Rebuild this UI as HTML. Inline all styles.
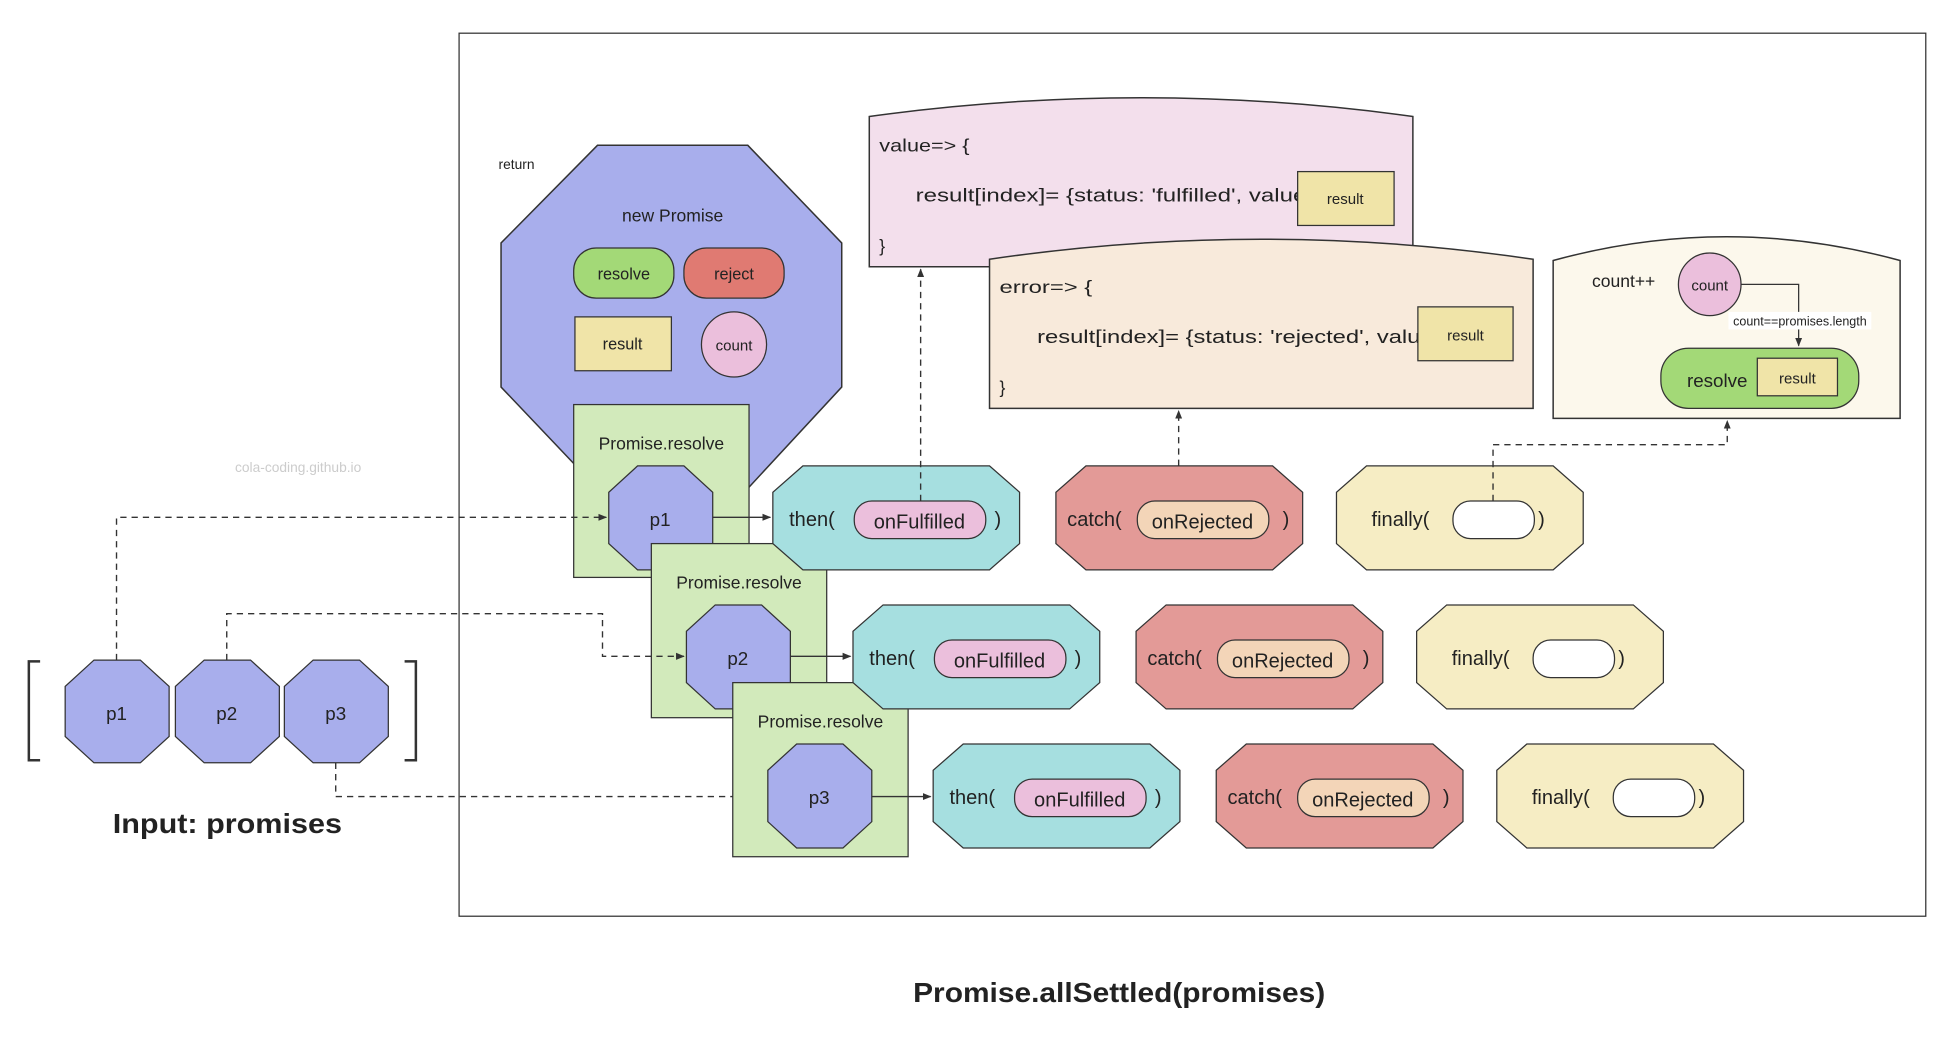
<!DOCTYPE html>
<html><head><meta charset="utf-8"><style>
html,body{margin:0;padding:0;background:#fff;}
svg{display:block;}
text{font-family:"Liberation Sans",sans-serif;fill:#222;}
</style></head><body>
<svg width="1954" height="1058" viewBox="0 0 1560 844.7" xmlns="http://www.w3.org/2000/svg">
<defs>
<marker id="ah" viewBox="0 0 10 10" refX="9" refY="5" markerWidth="7" markerHeight="7" orient="auto-start-reverse" markerUnits="userSpaceOnUse"><path d="M0,1 L10,5 L0,9 z" fill="#333"/></marker>
</defs>
<rect x="0" y="0" width="1560" height="845" fill="#fff"/>
<rect x="366.5" y="26.5" width="1171" height="705" fill="none" stroke="#333" stroke-width="1"/>
<text x="238" y="377" font-size="11" text-anchor="middle" style="fill:#ccc">cola-coding.github.io</text>
<text x="398" y="135" font-size="11">return</text>

<polygon points="477,116 597,116 672,194 672,309 597,390 477,390 400,309 400,194" fill="#a8aeec" stroke="#333" stroke-width="1.2"/>
<text x="537" y="177" font-size="14" text-anchor="middle">new Promise</text>
<rect x="458" y="198" width="80" height="40" rx="18" fill="#a3d977" stroke="#333"/>
<text x="498" y="223" font-size="13" text-anchor="middle">resolve</text>
<rect x="546" y="198" width="80" height="40" rx="18" fill="#e07a72" stroke="#333"/>
<text x="586" y="223" font-size="13" text-anchor="middle">reject</text>
<rect x="459" y="253" width="77" height="43" fill="#f0e4a8" stroke="#333"/>
<text x="497" y="279" font-size="13" text-anchor="middle">result</text>
<ellipse cx="586" cy="275" rx="26" ry="26" fill="#ebbfdc" stroke="#333"/>
<text x="586" y="280" font-size="12" text-anchor="middle">count</text>

<path d="M694,93 Q911,63 1128,93 L1128,213 L694,213 Z" fill="#f3dfec" stroke="#333" stroke-width="1.2"/>
<text x="702" y="121" font-size="14" textLength="72" lengthAdjust="spacingAndGlyphs">value=&gt; {</text>
<text x="731" y="161" font-size="15" textLength="312" lengthAdjust="spacingAndGlyphs">result[index]= {status: 'fulfilled', value</text>
<text x="702" y="201" font-size="14">}</text>
<rect x="1036" y="137" width="77" height="43" fill="#f0e4a8" stroke="#333"/>
<text x="1074" y="163" font-size="12" text-anchor="middle">result</text>

<path d="M790,207 Q1007,175 1224,207 L1224,326 L790,326 Z" fill="#f8eadb" stroke="#333" stroke-width="1.2"/>
<text x="798" y="234" font-size="14" textLength="74" lengthAdjust="spacingAndGlyphs">error=&gt; {</text>
<text x="828" y="274" font-size="15" textLength="306" lengthAdjust="spacingAndGlyphs">result[index]= {status: 'rejected', valu</text>
<text x="798" y="314" font-size="14">}</text>
<rect x="1132" y="245" width="76" height="43" fill="#f0e4a8" stroke="#333"/>
<text x="1170" y="272" font-size="12" text-anchor="middle">result</text>

<path d="M1240,208 Q1378,170 1517,208 L1517,334 L1240,334 Z" fill="#fcf8ec" stroke="#333" stroke-width="1.2"/>
<text x="1271" y="229" font-size="14">count++</text>
<ellipse cx="1365" cy="227" rx="25" ry="25" fill="#ebbfdc" stroke="#333"/>
<text x="1365" y="232" font-size="12" text-anchor="middle">count</text>
<path d="M1390,227 L1436,227 L1436,276" fill="none" stroke="#333" marker-end="url(#ah)"/>
<rect x="1380" y="249" width="114" height="14" fill="#fff"/>
<text x="1437" y="260" font-size="10" text-anchor="middle">count==promises.length</text>
<rect x="1326" y="278" width="158" height="48" rx="22" fill="#a3d977" stroke="#333"/>
<text x="1371" y="309" font-size="15" text-anchor="middle">resolve</text>
<rect x="1403" y="286" width="64" height="30" fill="#f0e4a8" stroke="#333"/>
<text x="1435" y="306" font-size="12" text-anchor="middle">result</text>

<rect x="458" y="323" width="140" height="138" fill="#d2eabb" stroke="#333"/>
<text x="528" y="359" font-size="14" text-anchor="middle">Promise.resolve</text>
<polygon points="509,372 546,372 569,393 569,434 546,455 509,455 486,434 486,393" fill="#a8aeec" stroke="#333"/>
<text x="527" y="420" font-size="15" text-anchor="middle">p1</text>

<rect x="520" y="434" width="140" height="139" fill="#d2eabb" stroke="#333"/>
<text x="590" y="470" font-size="14" text-anchor="middle">Promise.resolve</text>
<polygon points="571,483 608,483 631,504 631,545 608,566 571,566 548,545 548,504" fill="#a8aeec" stroke="#333"/>
<text x="589" y="531" font-size="15" text-anchor="middle">p2</text>

<rect x="585" y="545" width="140" height="139" fill="#d2eabb" stroke="#333"/>
<text x="655" y="581" font-size="14" text-anchor="middle">Promise.resolve</text>
<polygon points="636,594 673,594 696,615 696,656 673,677 636,677 613,656 613,615" fill="#a8aeec" stroke="#333"/>
<text x="654" y="642" font-size="15" text-anchor="middle">p3</text>

<g id="row1">
<polygon points="641,372 790,372 814,393 814,434 790,455 641,455 617,434 617,393" fill="#a6dfe0" stroke="#333"/>
<text x="630" y="420" font-size="16">then(</text>
<rect x="682" y="400" width="105" height="30" rx="14" fill="#ebbfdc" stroke="#333"/>
<text x="734" y="422" font-size="16" text-anchor="middle">onFulfilled</text>
<text x="794" y="420" font-size="16">)</text>
<polygon points="867,372 1016,372 1040,393 1040,434 1016,455 867,455 843,434 843,393" fill="#e39a97" stroke="#333"/>
<text x="852" y="420" font-size="16">catch(</text>
<rect x="908" y="400" width="105" height="30" rx="14" fill="#f3d5b8" stroke="#333"/>
<text x="960" y="422" font-size="16" text-anchor="middle">onRejected</text>
<text x="1024" y="420" font-size="16">)</text>
<polygon points="1091,372 1240,372 1264,393 1264,434 1240,455 1091,455 1067,434 1067,393" fill="#f6edc4" stroke="#333"/>
<text x="1095" y="420" font-size="16">finally(</text>
<rect x="1160" y="400" width="65" height="30" rx="14" fill="#fff" stroke="#333"/>
<text x="1228" y="420" font-size="16">)</text>
</g>
<use href="#row1" transform="translate(64,111)"/>
<use href="#row1" transform="translate(128,222)"/>

<path d="M32,528 L23,528 L23,607 L32,607 M323,528 L332,528 L332,607 L323,607" fill="none" stroke="#333" stroke-width="2"/>
<polygon points="75,527 112,527 135,548 135,588 112,609 75,609 52,588 52,548" fill="#a8aeec" stroke="#333"/>
<text x="93" y="575" font-size="15" text-anchor="middle">p1</text>
<polygon points="163,527 200,527 223,548 223,588 200,609 163,609 140,588 140,548" fill="#a8aeec" stroke="#333"/>
<text x="181" y="575" font-size="15" text-anchor="middle">p2</text>
<polygon points="250,527 287,527 310,548 310,588 287,609 250,609 227,588 227,548" fill="#a8aeec" stroke="#333"/>
<text x="268" y="575" font-size="15" text-anchor="middle">p3</text>
<text x="90" y="665" font-size="22" font-weight="bold" textLength="183" lengthAdjust="spacingAndGlyphs">Input: promises</text>

<g fill="none" stroke="#333" stroke-width="1.1">
<path d="M93,527 L93,413 L484,413" stroke-dasharray="5,4" marker-end="url(#ah)"/>
<path d="M181,527 L181,490 L481,490 L481,524 L546,524" stroke-dasharray="5,4" marker-end="url(#ah)"/>
<path d="M268,609 L268,636 L585,636" stroke-dasharray="5,4"/>
<path d="M569,413 L615,413" marker-end="url(#ah)"/>
<path d="M631,524 L679,524" marker-end="url(#ah)"/>
<path d="M696,636 L743,636" marker-end="url(#ah)"/>
<path d="M735,400 L735,215" stroke-dasharray="5,4" marker-end="url(#ah)"/>
<path d="M941,372 L941,328" stroke-dasharray="5,4" marker-end="url(#ah)"/>
<path d="M1192,400 L1192,355 L1379,355 L1379,336" stroke-dasharray="5,4" marker-end="url(#ah)"/>
</g>

<text x="729" y="800" font-size="22" font-weight="bold" textLength="329" lengthAdjust="spacingAndGlyphs">Promise.allSettled(promises)</text>
</svg>
</body></html>
